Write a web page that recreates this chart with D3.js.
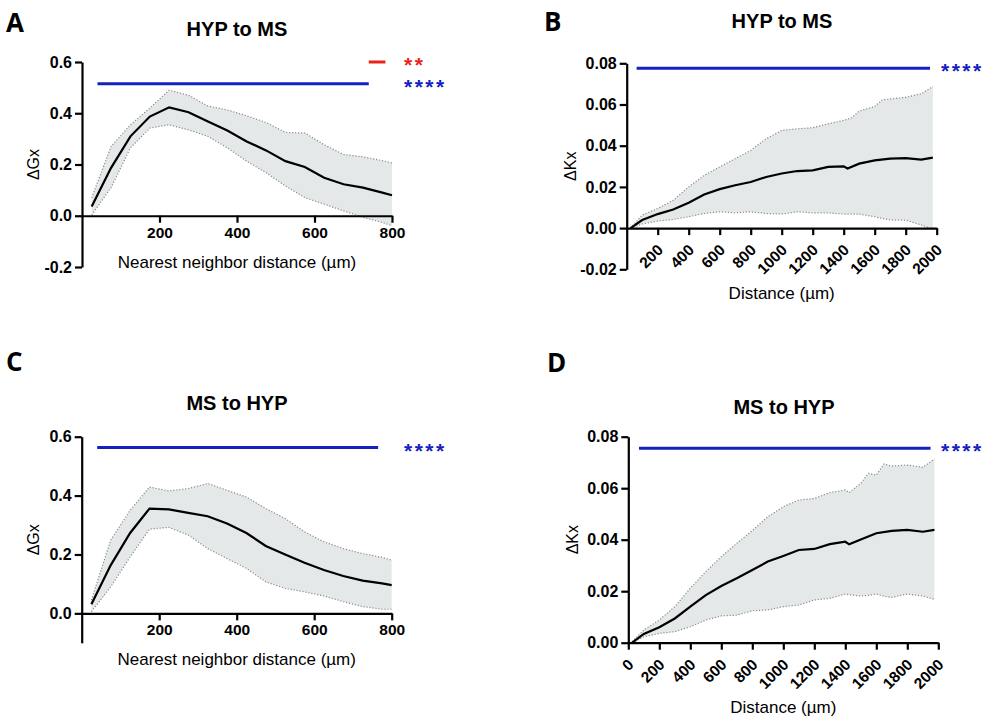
<!DOCTYPE html>
<html>
<head>
<meta charset="utf-8">
<script src="https://cdn.jsdelivr.net/npm/d3@7"></script>
<style>
  body { margin: 0; background: #fff; }
  svg text { font-family: "Liberation Sans", Arial, sans-serif; fill: #000; }
  .tick text { font-weight: bold; font-size: 16px; }
  .xax .tick text { font-size: 15.5px; }
  svg text.letter { font-family: "Open Sans", sans-serif; font-weight: bold; font-size: 26px; }
</style>
</head>
<body>
<svg width="988" height="718"></svg>
<script>
// nearest neighbour G function (panels A, C)
let gDist = [25, 75, 125, 175, 225, 275, 325, 375, 425, 475, 525, 575, 625, 675, 725, 775, 800];
let aMean  = [0.036, 0.187, 0.31, 0.387, 0.423, 0.404, 0.368, 0.333, 0.29, 0.255, 0.213, 0.19, 0.148, 0.123, 0.11, 0.09, 0.08];
let aUpper = [0.07, 0.27, 0.355, 0.42, 0.49, 0.47, 0.428, 0.413, 0.39, 0.364, 0.325, 0.323, 0.277, 0.239, 0.23, 0.215, 0.206];
let aLower = [0.003, 0.11, 0.265, 0.342, 0.355, 0.335, 0.31, 0.265, 0.213, 0.168, 0.116, 0.071, 0.045, 0.019, -0.006, -0.026, -0.039];
let cMean  = [0.031, 0.164, 0.273, 0.356, 0.353, 0.341, 0.33, 0.305, 0.273, 0.229, 0.2, 0.172, 0.147, 0.127, 0.111, 0.102, 0.096];
let cUpper = [0.045, 0.249, 0.35, 0.429, 0.416, 0.424, 0.441, 0.418, 0.395, 0.356, 0.322, 0.277, 0.243, 0.22, 0.203, 0.19, 0.181];
let cLower = [0.006, 0.09, 0.192, 0.286, 0.292, 0.266, 0.22, 0.186, 0.153, 0.107, 0.085, 0.073, 0.059, 0.04, 0.023, 0.014, 0.014];

// Ripley K function (panels B, D)
let kMeanDist = [25, 100, 200, 300, 400, 500, 600, 700, 800, 900, 1000, 1100, 1200, 1300, 1400, 1425, 1500, 1600, 1700, 1800, 1900, 1975];
let bMean = [0, 0.0039, 0.0068, 0.009, 0.0123, 0.0163, 0.0189, 0.0208, 0.0224, 0.0248, 0.0265, 0.0277, 0.028, 0.0297, 0.030, 0.0289, 0.0313, 0.0329, 0.0337, 0.034, 0.0332, 0.0342];
let bBandDist = [25, 100, 200, 300, 400, 500, 600, 700, 800, 900, 1000, 1100, 1200, 1300, 1400, 1450, 1500, 1600, 1650, 1700, 1800, 1900, 1975];
let bUpper = [0, 0.0063, 0.0095, 0.0135, 0.02, 0.0256, 0.0297, 0.0337, 0.0377, 0.0434, 0.0474, 0.0482, 0.0487, 0.0506, 0.0523, 0.0535, 0.0568, 0.059, 0.0623, 0.0627, 0.0635, 0.0652, 0.0687];
let bLower = [0, 0.002, 0.0034, 0.0042, 0.0055, 0.0071, 0.0079, 0.0074, 0.0079, 0.0071, 0.0068, 0.0079, 0.0074, 0.0074, 0.0068, 0.0068, 0.0068, 0.0055, 0.0047, 0.0039, 0.0039, 0.0015, -0.0005];
let dMean = [0, 0.0034, 0.006, 0.0094, 0.014, 0.0185, 0.022, 0.025, 0.0282, 0.0315, 0.0337, 0.036, 0.0364, 0.0383, 0.0392, 0.0382, 0.0401, 0.0425, 0.0434, 0.0438, 0.0431, 0.0438];
let dBandDist = [25, 100, 200, 300, 400, 500, 600, 700, 800, 900, 1000, 1100, 1200, 1300, 1400, 1425, 1500, 1550, 1600, 1650, 1700, 1800, 1900, 1975];
let dUpper = [0.0004, 0.0049, 0.0088, 0.014, 0.0211, 0.0276, 0.0334, 0.0386, 0.0435, 0.0489, 0.0528, 0.0554, 0.056, 0.0583, 0.0593, 0.0583, 0.0619, 0.0658, 0.0651, 0.0694, 0.0686, 0.069, 0.0681, 0.0713];
let dLower = [0, 0.0023, 0.0036, 0.0043, 0.0062, 0.0088, 0.0104, 0.0107, 0.0124, 0.0127, 0.014, 0.0146, 0.0166, 0.0172, 0.0189, 0.0186, 0.0181, 0.0184, 0.0189, 0.018, 0.0176, 0.0189, 0.0181, 0.0168];

let gTicksX = [200, 400, 600, 800];
let kTicksX = [200, 400, 600, 800, 1000, 1200, 1400, 1600, 1800, 2000];

// significance bars: [from, to, y level, label, colour]
let aSig = [[40, 740, 0.515, '****', 'blue'], [740, 783, 0.6, '**', 'red']];
let bSig = [[64, 1957, 0.0776, '****', 'blue']];
let cSig = [[40, 765, 0.563, '****', 'blue']];
let dSig = [[69, 1950, 0.0755, '****', 'blue']];

const svg = d3.select('svg');
const colors = { blue: '#1420c0', red: '#e8231c' };

function drawPanel(p) {
    let x = d3.scaleLinear().domain([0, p.xMax]).range(p.xRange);
    let y = d3.scaleLinear().domain(p.yDomain).range(p.yRange);
    let g = svg.append('g');

    let band = p.bandX.map((d, i) => ({ x: d, lo: p.lower[i], hi: p.upper[i] }));
    g.append('path')
        .datum(band)
        .attr('fill', '#e5e8e8')
        .attr('d', d3.area().x(d => x(d.x)).y0(d => y(d.lo)).y1(d => y(d.hi)));
    ['lo', 'hi'].forEach(k => {
        g.append('path')
            .datum(band)
            .attr('fill', 'none')
            .attr('stroke', '#8a8a8a')
            .attr('stroke-width', 1.2)
            .attr('stroke-dasharray', '1.2,1.8')
            .attr('d', d3.line().x(d => x(d.x)).y(d => y(d[k])));
    });

    g.append('path')
        .datum(p.meanX.map((d, i) => [d, p.mean[i]]))
        .attr('fill', 'none')
        .attr('stroke', '#000')
        .attr('stroke-width', 2.2)
        .attr('d', d3.line().x(d => x(d[0])).y(d => y(d[1])));

    // y axis
    let yAxis = g.append('g')
        .attr('transform', `translate(${p.xRange[0]},0)`)
        .call(d3.axisLeft(y).tickValues(p.yTicks).tickFormat(d => d.toFixed(p.yDec)).tickSize(7).tickSizeOuter(0).tickPadding(3));
    // x axis at y = 0
    let xAxis = g.append('g')
        .attr('class', 'xax')
        .attr('transform', `translate(0,${y(0)})`)
        .call(d3.axisBottom(x).tickValues(p.xTicks).tickFormat(d => d).tickSize(7).tickSizeOuter(0).tickPadding(4));
    [yAxis, xAxis].forEach(a => {
        a.select('.domain').attr('stroke-width', 2.2);
        a.selectAll('.tick line').attr('stroke-width', 2.2);
    });
    if (p.rotate) {
        xAxis.selectAll('.tick text')
            .attr('y', 0)
            .attr('text-anchor', 'end')
            .attr('dy', '0.35em')
            .attr('transform', 'translate(2,19) rotate(-45)');
    }

    // significance bars
    p.sig.forEach(s => {
        g.append('line')
            .attr('x1', x(s[0])).attr('x2', x(s[1]))
            .attr('y1', y(s[2])).attr('y2', y(s[2]))
            .attr('stroke', colors[s[4]])
            .attr('stroke-width', 3);
        g.append('text')
            .attr('x', p.starX)
            .attr('y', y(s[2]) + 10)
            .style('fill', colors[s[4]])
            .attr('font-weight', 'bold')
            .attr('font-size', 21)
            .attr('letter-spacing', 2.5)
            .text(s[3]);
    });

    let cx = (p.xRange[0] + p.xRange[1]) / 2;
    g.append('text')
        .attr('x', p.titleX).attr('y', p.titleY)
        .attr('text-anchor', 'middle')
        .attr('font-weight', 'bold').attr('font-size', 20)
        .text(p.title);
    g.append('text')
        .attr('x', cx).attr('y', p.xLabelY)
        .attr('text-anchor', 'middle')
        .attr('font-size', 17)
        .text(p.xLabel);
    g.append('text')
        .attr('transform', `translate(${p.yLabelX},${(p.yRange[0] + p.yRange[1]) / 2}) rotate(-90)`)
        .attr('text-anchor', 'middle')
        .attr('font-size', 16)
        .text(p.yLabel);
    g.append('text')
        .attr('class', 'letter')
        .attr('x', p.letter[1]).attr('y', p.letter[2])
        .text(p.letter[0]);
}

drawPanel({
    xMax: 800, xRange: [82, 392], yDomain: [-0.2, 0.6], yRange: [267, 62],
    yTicks: [-0.2, 0, 0.2, 0.4, 0.6], yDec: 1, xTicks: gTicksX,
    bandX: gDist, upper: aUpper, lower: aLower, meanX: gDist, mean: aMean,
    sig: aSig, starX: 404,
    title: 'HYP to MS', titleX: 237, titleY: 36,
    xLabel: 'Nearest neighbor distance (µm)', xLabelY: 268,
    yLabel: 'ΔGx', yLabelX: 39, letter: ['A', 6, 32]
});
drawPanel({
    xMax: 2000, xRange: [626.7, 936.7], yDomain: [-0.02, 0.08], yRange: [269.3, 63.3],
    yTicks: [-0.02, 0, 0.02, 0.04, 0.06, 0.08], yDec: 2, xTicks: kTicksX, rotate: true,
    bandX: bBandDist, upper: bUpper, lower: bLower, meanX: kMeanDist, mean: bMean,
    sig: bSig, starX: 941,
    title: 'HYP to MS', titleX: 782, titleY: 28,
    xLabel: 'Distance (µm)', xLabelY: 299,
    yLabel: 'ΔKx', yLabelX: 576, letter: ['B', 544, 31]
});
drawPanel({
    xMax: 800, xRange: [81.7, 391.7], yDomain: [-0.1, 0.6], yRange: [642.8, 436.7],
    yTicks: [0, 0.2, 0.4, 0.6], yDec: 1, xTicks: gTicksX,
    bandX: gDist, upper: cUpper, lower: cLower, meanX: gDist, mean: cMean,
    sig: cSig, starX: 404,
    title: 'MS to HYP', titleX: 237, titleY: 410,
    xLabel: 'Nearest neighbor distance (µm)', xLabelY: 665,
    yLabel: 'ΔGx', yLabelX: 39, letter: ['C', 6, 371]
});
drawPanel({
    xMax: 2000, xRange: [628.3, 938.3], yDomain: [0, 0.08], yRange: [642.7, 436.7],
    yTicks: [0, 0.02, 0.04, 0.06, 0.08], yDec: 2, xTicks: [0].concat(kTicksX), rotate: true,
    bandX: dBandDist, upper: dUpper, lower: dLower, meanX: kMeanDist, mean: dMean,
    sig: dSig, starX: 941,
    title: 'MS to HYP', titleX: 784, titleY: 414,
    xLabel: 'Distance (µm)', xLabelY: 713,
    yLabel: 'ΔKx', yLabelX: 578, letter: ['D', 547, 372]
});
</script>
</body>
</html>
